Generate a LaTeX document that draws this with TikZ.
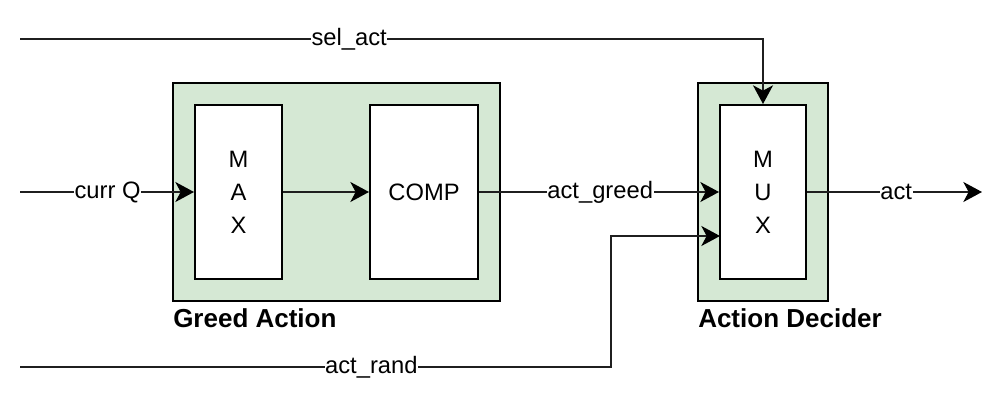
\documentclass[tikz,border=0pt]{standalone}
\usepackage{fontspec}
\setmainfont{Liberation Sans}
\usetikzlibrary{arrows.meta}
\definecolor{grfill}{HTML}{D5E8D4}
\begin{document}
\begin{tikzpicture}[x=0.75pt,y=-0.75pt,
  wire/.style={line width=1.5pt, draw=black!88},
  arr/.style={wire, -{Stealth[length=14pt,width=15pt,inset=4pt,fill=black,color=black]}},
  outer/.style={draw=black, line width=1.5pt, fill=grfill, minimum height=163.5pt, inner sep=0pt},
  inner/.style={draw=black, line width=1.5pt, fill=white, minimum height=130.5pt, inner sep=0pt,
    font=\fontsize{17.8pt}{24.75pt}\selectfont, align=center},
  lbl/.style={fill=white, inner sep=0.5pt, font=\fontsize{17.8pt}{21pt}\selectfont},
  title/.style={font=\fontsize{19.5pt}{22pt}\selectfont\bfseries, inner sep=0pt, anchor=base west}]
\useasboundingbox (0,0) rectangle (1008,417);
% containers
\node[outer, minimum width=245.25pt] (greed) at (336.5,192) {};
\node[outer, minimum width=97.5pt] (decider) at (763,192) {};
% inner blocks
\node[inner, minimum width=65.25pt] (max) at (238.5,192) {M\\A\\X};
\node[inner, minimum width=81pt] (comp) at (424,192) {};
\node[font=\fontsize{17.8pt}{21pt}\selectfont] (comptext) at (424,192) {COMP};
\node[inner, minimum width=64.5pt] (mux) at (763,192) {M\\U\\X};
% titles
\node[title] (gtitle) at (173,327.5) {Greed Action};
\node[title] (dtitle) at (698,327.5) {Action Decider};
% coordinates
\coordinate (sIn) at (20,39);
\coordinate (sCorner) at (763,39);
\coordinate (qIn) at (20,192);
\coordinate (rIn) at (20,367);
\coordinate (rC1) at (610.5,367);
\coordinate (rC2) at (610.5,236);
\coordinate (rEnd) at (720,236);
\coordinate (actOut) at (982,192);
% connectors
\draw[arr] (sIn) -- node[lbl, pos=0.443] {sel\_act} (sCorner) -- (mux.north);
\draw[arr] (qIn) -- node[lbl, pos=0.503] {curr Q} (max.west);
\draw[arr] (max.east) -- (comp.west);
\draw[arr] (comp.east) -- node[lbl, pos=0.505] {act\_greed} (mux.west);
\draw[arr] (mux.east) -- node[lbl, pos=0.51] {act} (actOut);
\draw[arr] (rIn) -- node[lbl, pos=0.595] {act\_rand} (rC1) -- (rC2) -- (rEnd);
\end{tikzpicture}
\end{document}
